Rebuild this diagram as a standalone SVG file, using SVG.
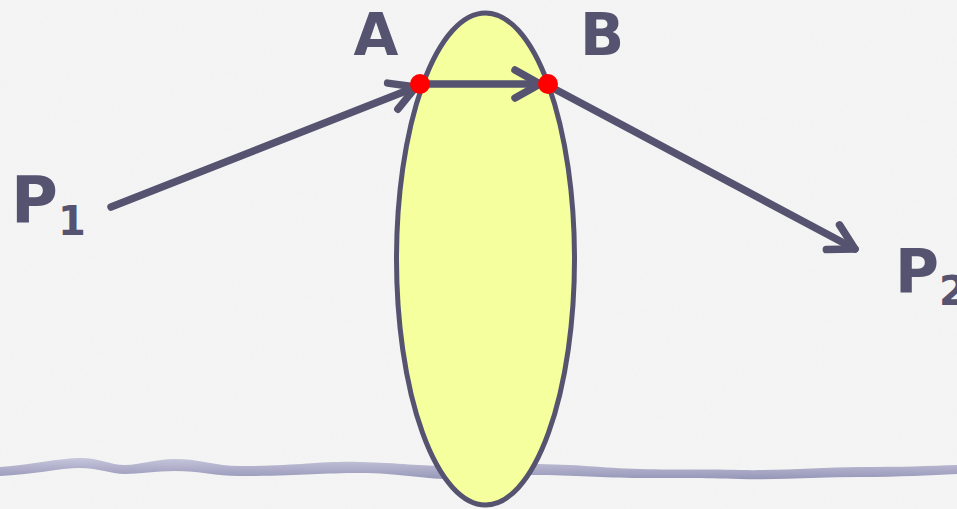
<svg xmlns="http://www.w3.org/2000/svg" width="957" height="509" viewBox="0 0 957 509">
<defs>
<style>
.ln{stroke:#555370;stroke-width:7.5;fill:none;stroke-linecap:round;stroke-linejoin:round}
.lbl{font-family:"DejaVu Sans",Verdana,sans-serif;font-weight:bold;fill:#555370}
.dot{fill:#ff0000}
</style>
<marker id="ah" markerUnits="userSpaceOnUse" viewBox="-40 -25 50 50" markerWidth="50" markerHeight="50" refX="0" refY="0" orient="auto">
<path d="M-25,-14 L0,0 L-25,14" fill="none" stroke="#555370" stroke-width="7.5" stroke-linecap="round" stroke-linejoin="round"/>
</marker>
<linearGradient id="wg" x1="0" y1="0" x2="0" y2="1">
<stop offset="0" stop-color="#c6c6dc"/>
<stop offset="1" stop-color="#9696b8"/>
</linearGradient>
<filter id="tex" x="0" y="0" width="100%" height="100%">
<feTurbulence type="fractalNoise" baseFrequency="0.9 0.25" numOctaves="2" seed="3" result="n"/>
<feColorMatrix in="n" type="matrix" values="0 0 0 0 0.93  0 0 0 0 0.93  0 0 0 0 0.93  0 0 0 -0.9 0.9" result="c"/>
<feComposite in="c" in2="SourceGraphic" operator="over"/>
</filter>
</defs>
<rect x="0" y="0" width="957" height="509" fill="#f1f1f1"/>
<rect x="0" y="0" width="957" height="509" fill="#f4f4f4" filter="url(#tex)" opacity="0.6"/>
<path d="M0,467 C30,465 60,458 80,458 C100,458 110,465 125,465 C140,465 155,459 175,459 C200,459 215,466 240,466 C300,466 320,461 360,462 C400,463 420,466 450,466 C480,466 500,464 530,464 C580,464 600,468 640,469 C680,470 700,469 740,470 C780,471 820,467 860,467 C900,467 930,466 957,465 L957,474 C930,475 900,477 860,477 C820,477 780,480 740,479 C700,478 680,478 640,478 C600,478 580,475 530,475 C500,475 480,479 450,479 C420,479 400,473 360,473 C320,473 300,476 240,476 C215,476 200,471 175,471 C155,471 140,474 125,474 C110,474 100,468 80,468 C60,468 30,475 0,476 Z" fill="url(#wg)"/>
<g id="lens">
<ellipse cx="485.5" cy="259" rx="89" ry="246" fill="#f5ff9e" stroke="#555370" stroke-width="5"/>
</g>
<g id="connectors">
<line class="ln" x1="111" y1="207" x2="416" y2="87" marker-end="url(#ah)"/>
<line class="ln" x1="422" y1="84" x2="540" y2="84" marker-end="url(#ah)"/>
<line class="ln" x1="549" y1="86" x2="855" y2="249" marker-end="url(#ah)"/>
</g>
<g id="A">
<circle class="dot" cx="420" cy="84" r="10"/>
<text class="lbl" x="376" y="55" font-size="58" text-anchor="middle">A</text>
</g>
<g id="B">
<circle class="dot" cx="548" cy="84" r="10"/>
<text class="lbl" x="602" y="55" font-size="58" text-anchor="middle">B</text>
</g>
<g id="P1">
<text class="lbl" x="11" y="222" font-size="64">P<tspan font-size="40" dy="13">1</tspan></text>
</g>
<g id="P2">
<text class="lbl" x="895" y="292" font-size="60">P<tspan font-size="40" dy="13">2</tspan></text>
</g>
</svg>
